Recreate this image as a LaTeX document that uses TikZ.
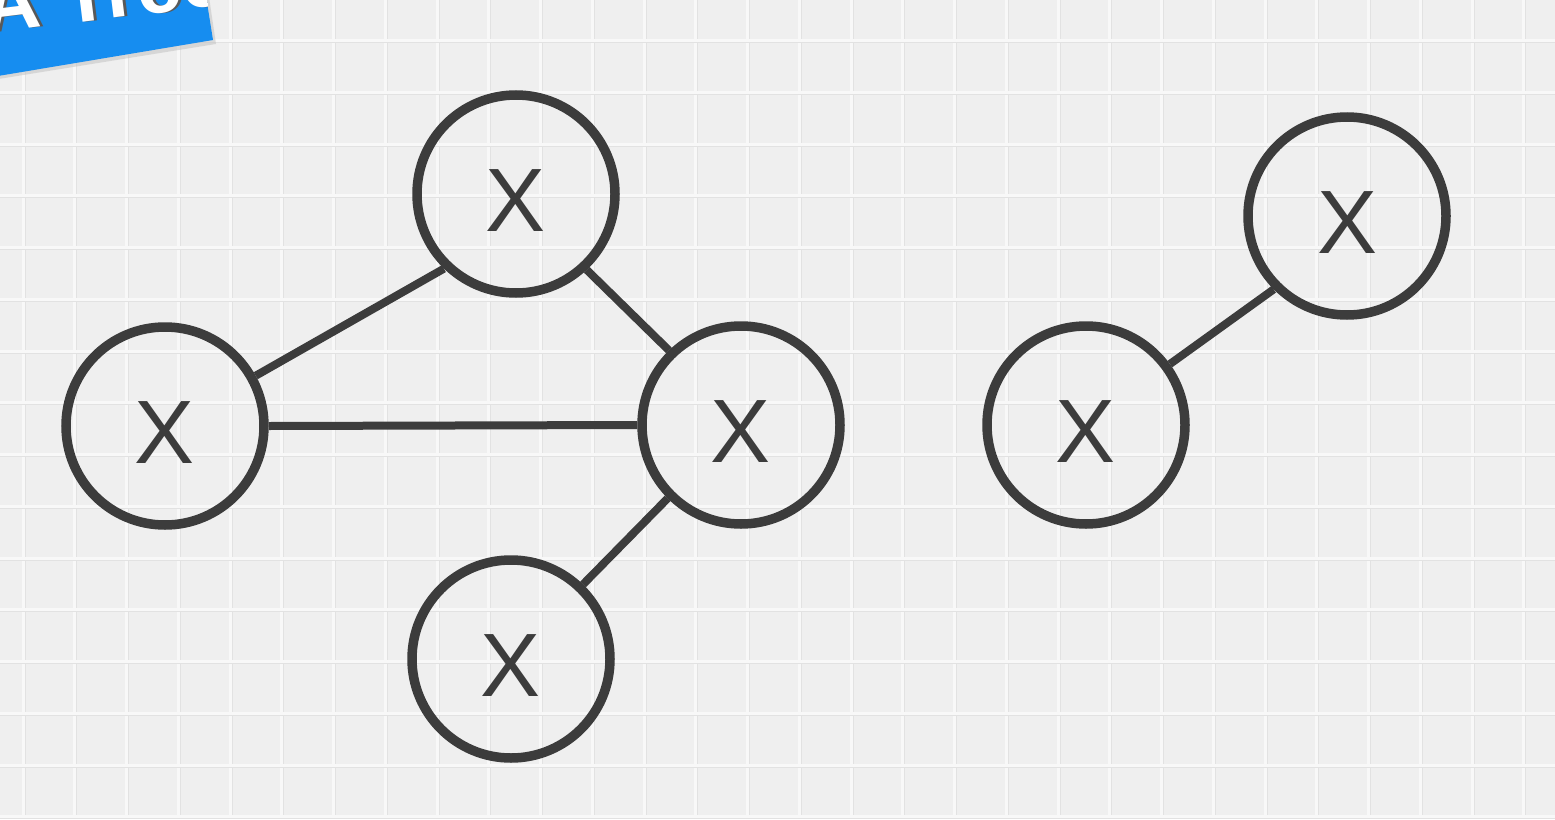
\documentclass[tikz,border=0pt]{standalone}
\usepackage{fontspec}
\setmainfont{Liberation Sans}
\newcommand{\vx}{\raisebox{0pt}[74pt][0pt]{X}}
\begin{document}
\begin{tikzpicture}[x=1pt,y=-1pt,
  vert/.style={circle,draw=ringgray,line width=9.5pt,minimum size=198pt,inner sep=0pt,
    font=\fontsize{90}{90}\selectfont,text=ringgray},
  edge/.style={draw=ringgray,line width=8pt},
  bantext/.style={anchor=base west,rotate=7,inner sep=0pt,
    font=\fontsize{80}{80}\selectfont\bfseries}]
\definecolor{ringgray}{HTML}{3C3C3C}
\definecolor{bg}{HTML}{EFEFEF}
\definecolor{gridw}{HTML}{F8F8F8}
\definecolor{gridd}{HTML}{E2E2E2}
\definecolor{banner}{HTML}{168DF0}
\useasboundingbox (0,0) rectangle (1555,819);
\fill[bg] (0,0) rectangle (1555,819);
% grid
\foreach \i in {0,...,30} {
  \draw[gridw,line width=3pt] (23+51.75*\i,0) -- (23+51.75*\i,819);
  \draw[gridd,line width=0.8pt] (25+51.75*\i,0) -- (25+51.75*\i,819);
}
\foreach \j in {-1,...,15} {
  \draw[gridw,line width=3pt] (0,40.5+51.75*\j) -- (1555,40.5+51.75*\j);
  \draw[gridd,line width=0.8pt] (0,42.5+51.75*\j) -- (1555,42.5+51.75*\j);
}
% banner
\begin{scope}
  \fill[black!25,opacity=0.5] (-20,82) -- (216,44) -- (208,-10) -- (-20,-10) -- cycle;
  \fill[banner] (-20,79) -- (213,40) -- (205,-10) -- (-20,-10) -- cycle;
  \clip (-20,79) -- (213,40) -- (205,-10) -- (-20,-10) -- cycle;
  \node[bantext,text=black!65] (bshadow) at (-12,34) {A Tree};
  \node[bantext,text=white] (btext) at (-15,34) {A Tree};
\end{scope}
% vertices
\node[vert] (a) at (516,194) {\vx};
\node[vert] (b) at (165,426) {\vx};
\node[vert] (c) at (741,425) {\vx};
\node[vert] (d) at (511,659) {\vx};
\node[vert] (e) at (1347,216) {\vx};
\node[vert] (f) at (1086,425) {\vx};
% edges
\draw[edge] (b.29) -- (a.226);
\draw[edge] (a.313) -- (c.134);
\draw[edge] (b.0) -- (c.180);
\draw[edge] (c.225) -- (d.46);
\draw[edge] (f.36) -- (e.225);
\end{tikzpicture}
\end{document}
